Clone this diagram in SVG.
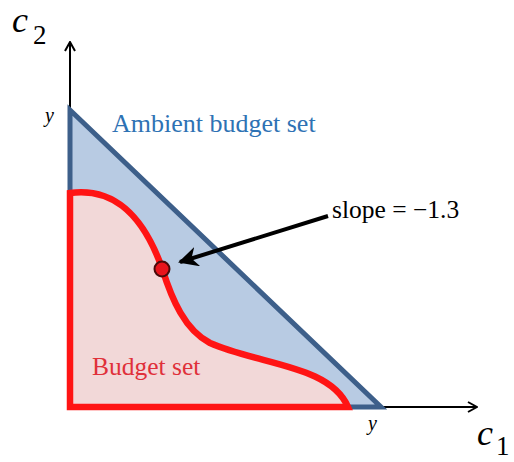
<svg xmlns="http://www.w3.org/2000/svg" width="514" height="462" viewBox="0 0 514 462">
<style>
.serif{font-family:"Liberation Serif","Times New Roman",serif}
.axis{stroke:#000;stroke-width:2;fill:none}
.lbl{font-size:20px;font-style:italic;fill:#000}
.var{font-size:36px;font-style:italic;fill:#000}
.sub{font-size:27px;fill:#000}
</style>
<defs>
<marker id="open" viewBox="0 0 12 12" refX="11" refY="6" markerWidth="12" markerHeight="12" markerUnits="userSpaceOnUse" orient="auto">
<path d="M2,1 L11,6 L2,11" fill="none" stroke="#000" stroke-width="2"/>
</marker>
<marker id="solid" viewBox="0 0 10 10" refX="9" refY="5" markerWidth="5" markerHeight="5" orient="auto">
<path d="M0,0 L10,5 L0,10 L3,5 Z" fill="#000"/>
</marker>
</defs>
<g id="axes">
<line class="axis" x1="70" y1="410" x2="70" y2="42" marker-end="url(#open)"/>
<line class="axis" x1="68" y1="407" x2="477" y2="407" marker-end="url(#open)"/>
</g>
<g id="ambient">
<path d="M70,110 L70,407 L381,407 Z" fill="#b8cbe3" stroke="#3d5f8a" stroke-width="5" stroke-linejoin="miter"/>
<text class="serif" x="112" y="132" font-size="26" fill="#2e72b4">Ambient budget set</text>
</g>
<g id="budget">
<path d="M70,407 L70,193 C108,188 140,207 162,268 C172,300 185,330 210,343 C260,365 330,365 348,407 Z" fill="#f2d8d8" stroke="#ff1414" stroke-width="6.5" stroke-linejoin="miter"/>
<text class="serif" x="92" y="375" font-size="25.5" fill="#e0303a">Budget set</text>
</g>
<g id="connectors">
<line x1="328" y1="216" x2="180" y2="262" stroke="#000" stroke-width="4" marker-end="url(#solid)"/>
</g>
<g id="point">
<circle cx="162" cy="269" r="7.5" fill="#e8141c" stroke="#4a0a0a" stroke-width="2"/>
</g>
<g id="slope-label">
<text class="serif" x="332" y="218" font-size="25.5" fill="#000">slope = −1.3</text>
</g>
<g id="labels">
<text class="serif lbl" x="45" y="122">y</text>
<text class="serif lbl" x="368" y="430">y</text>
<text class="serif var" x="12" y="32">c</text>
<text class="serif sub" x="33" y="44">2</text>
<text class="serif var" x="477" y="445">c</text>
<text class="serif sub" x="496" y="455">1</text>
</g>
</svg>
